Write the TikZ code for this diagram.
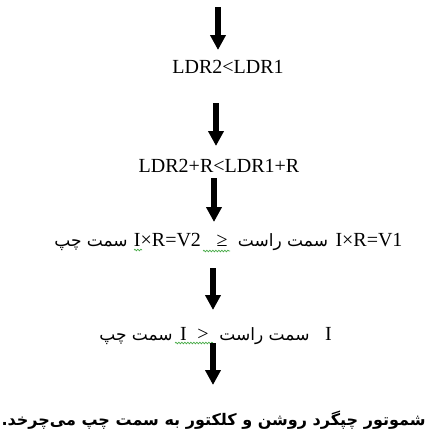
\documentclass[tikz,border=0pt]{standalone}
\usepackage{fontspec}
\setmainfont{Liberation Serif}
\newfontfamily\arabicfont[Script=Arabic]{DejaVu Sans}
\TeXXeTstate=1
\usetikzlibrary{arrows.meta,decorations.pathmorphing}
\definecolor{spellgreen}{RGB}{70,170,70}

\tikzset{
  lat/.style={font=\fontsize{20}{24}\selectfont, inner sep=0pt, anchor=base},
  fa/.style={font=\arabicfont\fontsize{17}{21}\selectfont, inner sep=0pt, anchor=base},
  fabold/.style={font=\arabicfont\bfseries\fontsize{16}{20}\selectfont, inner sep=0pt, anchor=base},
  bigarrow/.style={line width=6pt, -{Triangle[width=15pt,length=15pt]}},
  squiggle/.style={draw=spellgreen, line width=0.7pt, decorate,
    decoration={snake, segment length=3pt, amplitude=0.8pt}},
}

\begin{document}
\begin{tikzpicture}[x=1pt, y=-1pt]
\useasboundingbox (0,0) rectangle (425,432);

% statements, top to bottom
\node[lat] (l1) at (228,73) {LDR2<LDR1};
\node[lat] (l2) at (219,172) {LDR2+R<LDR1+R};

\node[fa]  (l3a) at (91,246)    {\beginR سمت چپ\endR};
\node[lat] (l3b) at (167.5,246) {I×R=V2};
\node[lat] (l3c) at (222,246)   {≥};
\node[fa]  (l3d) at (283,246)   {\beginR سمت راست\endR};
\node[lat] (l3e) at (369,246)   {I×R=V1};

\node[fa]  (l4a) at (136,340)   {\beginR سمت چپ\endR};
\node[lat] (l4b) at (183.5,340) {I};
\node[lat] (l4c) at (203,340)   {>};
\node[fa]  (l4d) at (264.5,340) {\beginR سمت راست\endR};
\node[lat] (l4e) at (328.5,340) {I};

\node[fabold] (l5) at (213.5,425) {\beginR شموتور چپگرد روشن و کلکتور به سمت چپ می‌چرخد.\endR};

% spell-check underlines
\draw[squiggle] (134,250) -- (142,250);
\draw[squiggle] (203,251) -- (230,251);
\draw[squiggle] (175,343) -- (213,343);

% arrow ends
\coordinate (a0) at (218,7);
\coordinate (a1) at (218,50);
\coordinate (b0) at (216,103);
\coordinate (b1) at (216,146);
\coordinate (c0) at (214,178);
\coordinate (c1) at (214,222);
\coordinate (d0) at (213,268);
\coordinate (d1) at (213,310);
\coordinate (e0) at (213,343);
\coordinate (e1) at (213,385);

\draw[bigarrow] (a0) -- (a1);
\draw[bigarrow] (b0) -- (b1);
\draw[bigarrow] (c0) -- (c1);
\draw[bigarrow] (d0) -- (d1);
\draw[bigarrow] (e0) -- (e1);
\end{tikzpicture}
\end{document}
